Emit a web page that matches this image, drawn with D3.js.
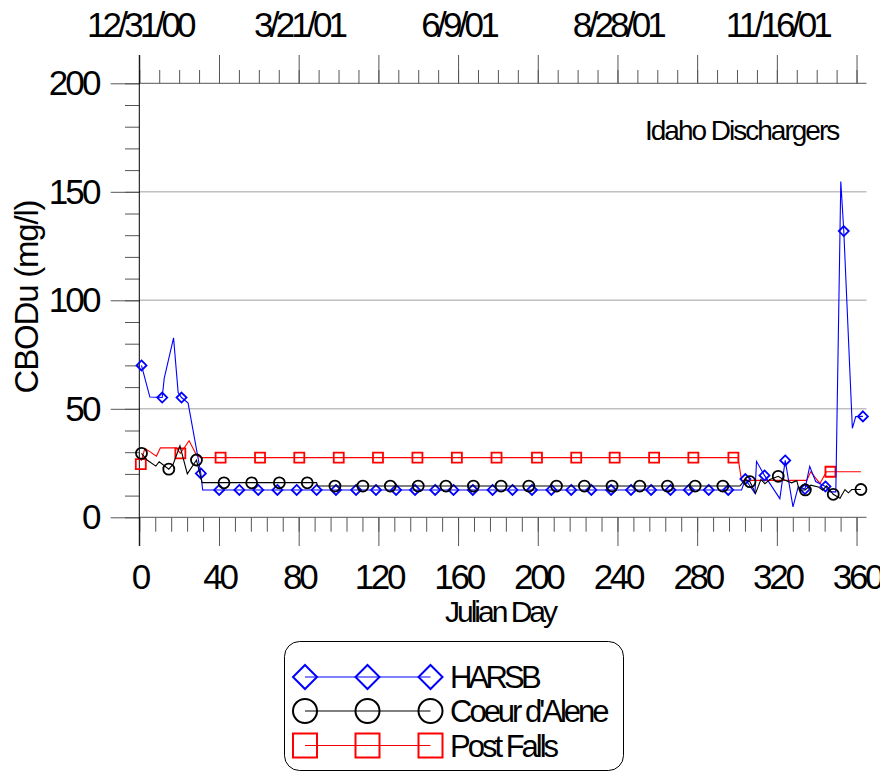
<!DOCTYPE html>
<html>
<head>
<meta charset="utf-8">
<script src="https://cdn.jsdelivr.net/npm/d3@7"></script>
<style>
body { margin: 0; background: #fff; }
text { font-family: "Liberation Sans", Arial, sans-serif; fill: #000; }
</style>
</head>
<body>
<svg id="chart" width="880" height="773"></svg>
<script>
// Data - [julian day, CBODu mg/l]
var harsbLine = [[1.1,70],[5.3,55.4],[11.5,55.2],[12.5,64],[17.2,82.7],[19.5,57.5],[21.2,55.2],[24.5,52.6],
    [30.9,20.2],[31.8,12.6],[302.3,12.6],[304.2,17.6],[309,11],[309.8,25.8],[313.8,19.3],[321.5,8.6],
    [324.2,26.2],[328.1,4.8],[330.7,14],[334.1,13],[336.5,23.5],[339.5,16.5],[344.4,14.2],[346.6,11.7],
    [349.6,11.7],[352.1,154.7],[353.6,131.9],[357.9,41],[359.6,46.4],[363.2,46.5]];
var harsbMarkers = [[1.1,70],[11.5,55.2],[21.2,55.2],[30.9,20.2],[40.1,12.6],[50.2,12.6],[59.7,12.6],
    [69.3,12.6],[79,12.6],[89,12.6],[98.7,12.6],[108.8,12.6],[118.8,12.6],[128.9,12.6],[138.4,12.6],
    [148.5,12.6],[157.7,12.6],[167.4,12.6],[177.3,12.6],[187.3,12.6],[197.1,12.6],[206.8,12.6],
    [216.8,12.6],[226.9,12.6],[236.8,12.6],[246.8,12.6],[256.9,12.6],[266.6,12.6],[275.8,12.6],
    [285.8,12.6],[295.6,12.6],[304.2,17.6],[313.8,19.3],[324.2,26.2],[334.1,13],[344.4,14.2],
    [353.6,131.9],[363.2,46.5]];

var cdaLine = [[1.1,29.5],[3.9,26.4],[8.3,23.6],[10,25.6],[14.8,22.2],[17,24.5],[20.4,32.9],[24.1,20],
    [28.7,26.4],[30.8,18.7],[31.5,16],[89,16],[89.5,14.4],[301.5,14.4],[304,17.4],[306.5,16.4],
    [309.3,11],[312,17.4],[314,15.5],[316.5,17.4],[320.7,18.9],[323.2,17.4],[327.4,15.9],[330,16.9],
    [331.2,12.6],[334.2,12.6],[337,14.8],[340.8,14],[343,12.5],[345,14.5],[348.3,10.6],[351.7,8.8],
    [354.2,12.8],[355.9,11.3],[357.6,12.8],[362.2,12.8]];
var cdaMarkers = [[1.1,29.5],[14.8,22.2],[28.7,26.4],[42.5,15.9],[56.4,15.9],[70.3,15.9],[84.3,15.9],
    [98.2,14.4],[112.2,14.4],[126,14.4],[140,14.4],[153.9,14.4],[167.7,14.4],[181.6,14.4],[195.5,14.4],
    [209.4,14.4],[223.4,14.4],[237.3,14.4],[251.2,14.4],[265.1,14.4],[279,14.4],[292.9,14.4],
    [306.5,16.4],[320.7,18.9],[334.3,12.6],[348.3,10.6],[362.2,12.8]];

var pfLine = [[1,26],[2.8,31.8],[8.6,28.2],[10.6,32],[18.6,32],[20.6,29.5],[25,35.3],[28.7,28.7],
    [31,27.5],[300.5,27.5],[302.3,17],[335,17],[337,21],[341.6,15.6],[344.9,21],[362.2,21]];
var pfMarkers = [[0.75,24.5],[20.6,29.5],[40.8,27.5],[60.6,27.5],[80.3,27.5],[100.1,27.5],[119.8,27.5],
    [139.6,27.5],[159.4,27.5],[179.3,27.5],[199.6,27.5],[219.3,27.5],[238.6,27.5],[258.4,27.5],
    [278.1,27.5],[298.2,27.5],[346.9,21]];

var seriesNames = ["HARSB", "Coeur d'Alene", "Post Falls"];
var seriesColors = ["#0000ff", "#000000", "#ff0000"];
var seriesShapes = ["diamond", "circle", "square"];

var xTickLabels = [0, 40, 80, 120, 160, 200, 240, 280, 320, 360];
var yTickLabels = [0, 50, 100, 150, 200];
var gridValues = [50, 100, 150];
var dateDays = [0, 80, 160, 240, 320];
var dateLabels = ["12/31/00", "3/21/01", "6/9/01", "8/28/01", "11/16/01"];

var svg = d3.select("#chart");

// Scales
var x = d3.scaleLinear().domain([0, 365]).range([139.3, 866.5]);
var y = d3.scaleLinear().domain([0, 200]).range([517.3, 83.3]);

// Gridlines
svg.append("g").selectAll("line").data(gridValues).enter().append("line")
    .attr("x1", x(0)).attr("x2", x(365))
    .attr("y1", d => y(d)).attr("y2", d => y(d))
    .attr("stroke", "#c0c0c0").attr("stroke-width", 1.5);

function styleAxis(g) {
    g.select(".domain").remove();
    g.selectAll(".tick line").attr("stroke", "#555");
}

// Bottom axis: minor every 8 days, major every 40
svg.append("g").attr("transform", "translate(0," + y(0) + ")")
    .call(d3.axisBottom(x).tickValues(d3.range(0, 361, 8)).tickSize(14.4).tickFormat(""))
    .call(styleAxis);
var bottomMajor = svg.append("g").attr("transform", "translate(0," + y(0) + ")")
    .call(d3.axisBottom(x).tickValues(xTickLabels).tickSize(28.7).tickPadding(18))
    .call(styleAxis);
bottomMajor.selectAll("text").attr("font-size", 35).attr("letter-spacing", -3.3)
    .attr("font-family", "Liberation Sans, Arial, sans-serif");

// Top axis: minor every 10 days, major every 40, dates every 80
svg.append("g").attr("transform", "translate(0," + y(200) + ")")
    .call(d3.axisTop(x).tickValues(d3.range(0, 361, 10)).tickSize(13.3).tickFormat(""))
    .call(styleAxis);
svg.append("g").attr("transform", "translate(0," + y(200) + ")")
    .call(d3.axisTop(x).tickValues(d3.range(0, 361, 40)).tickSize(28.3).tickFormat(""))
    .call(styleAxis);
var topLabels = svg.append("g").attr("transform", "translate(0," + y(200) + ")")
    .call(d3.axisTop(x).tickValues(dateDays).tickSize(0).tickPadding(46)
        .tickFormat((d, i) => dateLabels[i]))
    .call(styleAxis);
topLabels.selectAll("text").attr("font-size", 35).attr("letter-spacing", -3.8)
    .attr("font-family", "Liberation Sans, Arial, sans-serif");

// Left axis: minor every 10, major every 50
svg.append("g").attr("transform", "translate(" + x(0) + ",0)")
    .call(d3.axisLeft(y).tickValues(d3.range(0, 201, 10)).tickSize(14.3).tickFormat(""))
    .call(styleAxis);
var leftMajor = svg.append("g").attr("transform", "translate(" + x(0) + ",0)")
    .call(d3.axisLeft(y).tickValues(yTickLabels).tickSize(28.6).tickPadding(12))
    .call(styleAxis);
leftMajor.selectAll("text").attr("font-size", 35).attr("letter-spacing", -2.8)
    .attr("font-family", "Liberation Sans, Arial, sans-serif");

// Axis lines
svg.append("line").attr("x1", x(0)).attr("x2", x(365)).attr("y1", y(0)).attr("y2", y(0))
    .attr("stroke", "#555");
svg.append("line").attr("x1", x(0)).attr("x2", x(365)).attr("y1", y(200)).attr("y2", y(200))
    .attr("stroke", "#555");
svg.append("line").attr("x1", x(0)).attr("x2", x(0)).attr("y1", y(200) - 28.3).attr("y2", y(0) + 28.7)
    .attr("stroke", "#000");

// Titles
svg.append("text").attr("x", 500).attr("y", 622).attr("text-anchor", "middle")
    .attr("font-size", 30).attr("letter-spacing", -3).text("Julian Day");
svg.append("text").attr("transform", "translate(38,297) rotate(-90)").attr("text-anchor", "middle")
    .attr("font-size", 33).attr("letter-spacing", -1.2).text("CBODu (mg/l)");
svg.append("text").attr("x", 645).attr("y", 140)
    .attr("font-size", 28).attr("letter-spacing", -2).text("Idaho Dischargers");

// Marker shape
function markerPath(shape, s) {
    if (shape === "diamond") return "M0," + (-s) + "L" + s + ",0L0," + s + "L" + (-s) + ",0Z";
    if (shape === "square") return "M" + (-s) + "," + (-s) + "h" + (2 * s) + "v" + (2 * s) + "h" + (-2 * s) + "Z";
    return null;
}
function drawMarkers(g, pts, shape, color, s, w) {
    if (shape === "circle") {
        g.selectAll("circle").data(pts).enter().append("circle")
            .attr("cx", d => x(d[0])).attr("cy", d => y(d[1])).attr("r", s)
            .attr("fill", "none").attr("stroke", color).attr("stroke-width", w);
    } else {
        g.selectAll("path.m").data(pts).enter().append("path").attr("class", "m")
            .attr("transform", d => "translate(" + x(d[0]) + "," + y(d[1]) + ")")
            .attr("d", markerPath(shape, s))
            .attr("fill", "none").attr("stroke", color).attr("stroke-width", w);
    }
}

var line = d3.line().x(d => x(d[0])).y(d => y(d[1]));

// Series (red first, then blue, then black)
var order = [2, 0, 1];
var lines = [harsbLine, cdaLine, pfLine];
var marks = [harsbMarkers, cdaMarkers, pfMarkers];
var sizes = [5, 5.5, 5];
order.forEach(function(i) {
    var g = svg.append("g");
    g.append("path").attr("d", line(lines[i])).attr("fill", "none")
        .attr("stroke", seriesColors[i]).attr("stroke-width", 1.1);
    drawMarkers(g, marks[i], seriesShapes[i], seriesColors[i], sizes[i], 1.8);
});

// Legend
var legend = svg.append("g");
legend.append("rect").attr("x", 284.5).attr("y", 641.5).attr("width", 339).attr("height", 129)
    .attr("rx", 15).attr("ry", 15).attr("fill", "#fff").attr("stroke", "#000");
var legendRowY = [677, 711, 745.5];
var legendMarkX = [305, 367.5, 430.5];
seriesNames.forEach(function(name, i) {
    var ry = legendRowY[i];
    legend.append("line").attr("x1", legendMarkX[0]).attr("x2", legendMarkX[2])
        .attr("y1", ry).attr("y2", ry).attr("stroke", seriesColors[i]).attr("stroke-width", 1.2);
    legendMarkX.forEach(function(mx) {
        if (seriesShapes[i] === "circle") {
            legend.append("circle").attr("cx", mx).attr("cy", ry).attr("r", 12)
                .attr("fill", "none").attr("stroke", seriesColors[i]).attr("stroke-width", 2);
        } else {
            legend.append("path").attr("transform", "translate(" + mx + "," + ry + ")")
                .attr("d", markerPath(seriesShapes[i], 12))
                .attr("fill", "none").attr("stroke", seriesColors[i]).attr("stroke-width", 2);
        }
    });
    legend.append("text").attr("x", 450).attr("y", ry + 11)
        .attr("font-size", 31).attr("letter-spacing", i === 0 ? -3.8 : -3).text(name);
});
</script>
</body>
</html>
